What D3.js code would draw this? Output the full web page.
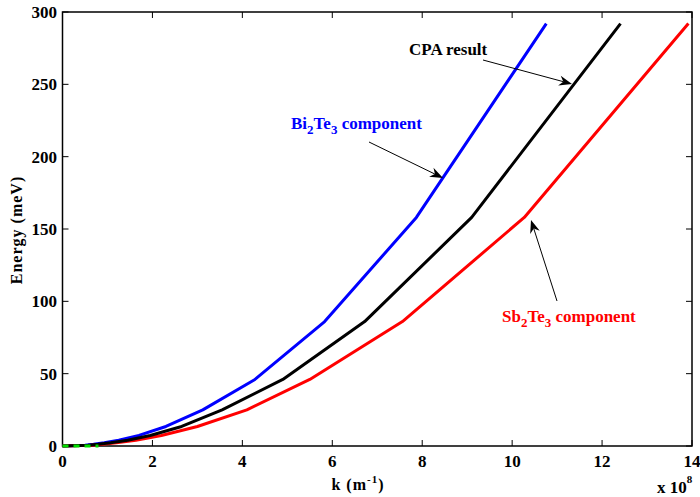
<!DOCTYPE html>
<html>
<head>
<meta charset="utf-8">
<script src="https://cdn.jsdelivr.net/npm/d3@7"></script>
<style>
  body { margin: 0; background: #fff; }
  svg text { font-family: "Liberation Serif", "Times New Roman", serif; font-weight: bold; }
</style>
</head>
<body>
<svg id="chart" width="700" height="497"></svg>
<script>
// energy levels shared by the three curves (meV)
var energy = [0, 0.6, 1.2, 2.2, 4, 7.3, 13.5, 25, 46, 86, 158, 292];
// k values (x 10^8 m^-1) for each curve
var kBi = [0, 0.5, 0.69, 0.93, 1.25, 1.7, 2.3, 3.12, 4.28, 5.83, 7.87, 10.76];
var kCPA = [0, 0.57, 0.79, 1.07, 1.45, 1.95, 2.65, 3.55, 4.9, 6.72, 9.1, 12.41];
var kSb = [0, 0.64, 0.89, 1.2, 1.63, 2.2, 3.0, 4.1, 5.5, 7.56, 10.27, 13.92];
// short green dashed trace at the origin
var kGreen = [0, 0.8];
var eGreen = [0, 0];

var xTicks = [0, 2, 4, 6, 8, 10, 12, 14];
var yTicks = [0, 50, 100, 150, 200, 250, 300];

var svg = d3.select("#chart");
var x = d3.scaleLinear().domain([0, 14]).range([62.5, 692]);
var y = d3.scaleLinear().domain([0, 300]).range([446, 12]);

var line = d3.line()
    .x(function(d) { return x(d[0]); })
    .y(function(d) { return y(d[1]); });

function pts(ks, es) {
    return ks.map(function(k, i) { return [k, es[i]]; });
}

// box with inward ticks
var ax = svg.append("g").attr("stroke", "#000").attr("stroke-width", 1.5).attr("fill", "none");
ax.append("rect")
    .attr("x", x(0)).attr("y", y(300))
    .attr("width", x(14) - x(0)).attr("height", y(0) - y(300));
xTicks.forEach(function(t) {
    ax.append("line").attr("x1", x(t)).attr("x2", x(t)).attr("y1", y(0)).attr("y2", y(0) - 6).attr("stroke-width", 1);
    ax.append("line").attr("x1", x(t)).attr("x2", x(t)).attr("y1", y(300)).attr("y2", y(300) + 6).attr("stroke-width", 1);
});
yTicks.forEach(function(t) {
    ax.append("line").attr("x1", x(0)).attr("x2", x(0) + 6).attr("y1", y(t)).attr("y2", y(t)).attr("stroke-width", 1);
    ax.append("line").attr("x1", x(14)).attr("x2", x(14) - 6).attr("y1", y(t)).attr("y2", y(t)).attr("stroke-width", 1);
});

svg.append("g").selectAll("text").data(xTicks).enter().append("text")
    .attr("x", function(d) { return x(d); })
    .attr("y", 467)
    .attr("text-anchor", "middle")
    .attr("font-size", 17)
    .text(function(d) { return d; });

svg.append("g").selectAll("text").data(yTicks).enter().append("text")
    .attr("x", 57)
    .attr("y", function(d) { return y(d) + 6; })
    .attr("text-anchor", "end")
    .attr("font-size", 17)
    .text(function(d) { return d; });

// x 10^8 multiplier
var mult = svg.append("text").attr("x", 657).attr("y", 493).attr("font-size", 17);
mult.append("tspan").text("x 10");
mult.append("tspan").attr("dy", -10).attr("font-size", 11).text("8");

// axis labels
var xl = svg.append("text").attr("x", 358).attr("y", 490).attr("text-anchor", "middle")
    .attr("font-size", 16).attr("letter-spacing", 1);
xl.append("tspan").text("k (m");
xl.append("tspan").attr("dy", -7).attr("font-size", 11).text("-1");
xl.append("tspan").attr("dy", 7).text(")");

svg.append("text")
    .attr("transform", "translate(22,230) rotate(-90)")
    .attr("text-anchor", "middle")
    .attr("font-size", 16)
    .attr("letter-spacing", 1)
    .text("Energy (meV)");

// curves
var series = [
    { k: kBi, c: "#0000ff" },
    { k: kSb, c: "#ff0000" },
    { k: kCPA, c: "#000000" }
];
series.forEach(function(s) {
    svg.append("path")
        .attr("d", line(pts(s.k, energy)))
        .attr("fill", "none")
        .attr("stroke", s.c)
        .attr("stroke-width", 3)
        .attr("stroke-linejoin", "round");
});
svg.append("path")
    .attr("d", line(pts(kGreen, eGreen)))
    .attr("fill", "none")
    .attr("stroke", "#00dd00")
    .attr("stroke-width", 3)
    .attr("stroke-dasharray", "6,5");

// annotations with arrows
function arrow(x1, y1, x2, y2) {
    var a = Math.atan2(y2 - y1, x2 - x1);
    var L = 13, W = 5, n = 9;
    var bx = x2 - L * Math.cos(a), by = y2 - L * Math.sin(a);
    var nx = x2 - n * Math.cos(a), ny = y2 - n * Math.sin(a);
    var px = -Math.sin(a) * W, py = Math.cos(a) * W;
    svg.append("line").attr("x1", x1).attr("y1", y1).attr("x2", nx).attr("y2", ny)
        .attr("stroke", "#000").attr("stroke-width", 1);
    svg.append("path")
        .attr("d", "M" + x2 + "," + y2 + "L" + (bx + px) + "," + (by + py) + "L" + nx + "," + ny +
            "L" + (bx - px) + "," + (by - py) + "Z")
        .attr("fill", "#000");
}

function label(xp, yp, color, parts) {
    var t = svg.append("text").attr("x", xp).attr("y", yp).attr("font-size", 17).attr("fill", color);
    parts.forEach(function(p) {
        if (p[1]) {
            t.append("tspan").attr("dy", 5).attr("font-size", 13).text(p[0]);
        } else {
            t.append("tspan").attr("dy", p[2] || 0).text(p[0]);
        }
    });
}

label(291, 129, "#0000ff", [["Bi"], ["2", true], ["Te", false, -5], ["3", true], [" component", false, -5]]);
arrow(369, 142, 443, 178);

label(409, 55, "#000000", [["CPA result"]]);
arrow(483, 60, 572, 84);

label(502, 322, "#ff0000", [["Sb"], ["2", true], ["Te", false, -5], ["3", true], [" component", false, -5]]);
arrow(557, 301, 531, 220);
</script>
</body>
</html>
